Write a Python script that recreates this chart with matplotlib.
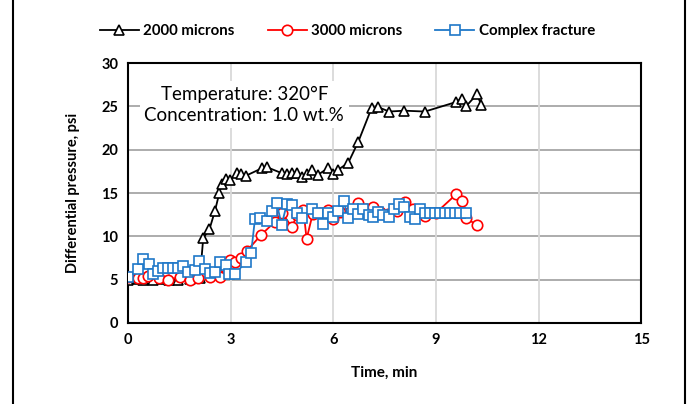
import matplotlib.pyplot as plt
from matplotlib.patches import Rectangle

# Donnees
t_2000 = [0.0, 0.3, 0.45, 0.74, 1.0, 1.2, 1.47, 1.8, 2.1, 2.2, 2.38, 2.54, 2.67, 2.74,
          2.87, 2.98, 3.18, 3.3, 3.45, 3.91, 4.05, 4.49, 4.64, 4.79, 4.93, 5.08, 5.22,
          5.39, 5.55, 5.84, 5.98, 6.15, 6.44, 6.73, 7.12, 7.32, 7.63, 8.08, 8.68, 9.59,
          9.76, 9.88, 10.2, 10.32]
p_2000 = [5.0, 5.1, 5.0, 5.0, 5.1, 5.0, 5.0, 5.1, 5.15, 9.8, 10.8, 12.9, 15.0, 16.0,
          16.6, 16.5, 17.3, 17.2, 17.0, 17.85, 18.0, 17.3, 17.2, 17.35, 17.3, 16.9, 17.2,
          17.6, 17.1, 17.85, 17.2, 17.7, 18.5, 20.9, 24.8, 24.9, 24.4, 24.5, 24.4, 25.5,
          25.9, 25.0, 26.4, 25.2]

t_3000 = [0.0, 0.3, 0.45, 0.6, 0.9, 1.18, 1.52, 1.81, 2.06, 2.4, 2.69, 2.85, 2.98, 3.13,
          3.3, 3.47, 3.9, 4.3, 4.5, 4.79, 4.95, 5.13, 5.22, 5.4, 5.61, 5.86, 6.0, 6.2,
          6.49, 6.73, 6.95, 7.17, 7.37, 7.6, 7.85, 8.1, 8.34, 8.68, 9.0, 9.59, 9.76,
          9.88, 10.2]
p_3000 = [5.3, 5.2, 5.15, 5.4, 5.2, 5.0, 5.3, 5.0, 5.15, 5.35, 5.35, 6.5, 7.3, 7.0,
          7.5, 8.3, 10.2, 11.7, 12.7, 11.1, 12.5, 13.0, 9.7, 12.6, 12.65, 13.0, 12.0, 12.8,
          12.85, 13.8, 13.2, 13.4, 12.85, 12.6, 12.9, 14.0, 13.1, 12.35, 12.7, 14.85, 14.1,
          12.1, 11.3]

t_cf = [0.0, 0.3, 0.43, 0.62, 0.74, 0.89, 1.03, 1.18, 1.32, 1.47, 1.62, 1.76, 1.96, 2.08,
        2.25, 2.4, 2.54, 2.69, 2.87, 2.96, 3.13, 3.45, 3.6, 3.71, 3.86, 4.05, 4.2, 4.35,
        4.49, 4.64, 4.79, 4.93, 5.1, 5.37, 5.54, 5.69, 5.86, 6.0, 6.15, 6.3, 6.44, 6.59,
        6.73, 6.88, 7.03, 7.17, 7.32, 7.45, 7.64, 7.78, 7.93, 8.07, 8.23, 8.39, 8.54,
        8.68, 8.83, 8.98, 9.12, 9.27, 9.42, 9.56, 9.71, 9.88]
p_cf = [5.27, 6.2, 7.35, 6.8, 5.7, 6.0, 6.4, 6.3, 6.4, 6.4, 6.6, 5.9, 6.1, 7.2,
        6.2, 5.8, 5.9, 7.07, 6.7, 5.65, 5.65, 7.07, 8.1, 11.96, 12.07, 11.8, 12.96, 13.8,
        11.3, 13.7, 13.6, 12.65, 12.07, 13.2, 12.7, 11.4, 12.65, 12.27, 12.96, 14.1, 12.07,
        13.1, 12.6, 13.2, 12.46, 12.27, 12.85, 12.46, 12.2, 13.1, 13.7, 13.4, 12.27, 11.96,
        13.2, 12.7, 12.73, 12.73, 12.73, 12.73, 12.73, 12.73, 12.73, 12.73]

x_ticks = [0, 3, 6, 9, 12, 15]
y_ticks = [0, 5, 10, 15, 20, 25, 30]

police = ['Lato', 'DejaVu Sans']
plt.rcParams['font.family'] = police

fig = plt.figure(figsize=(6.88, 4.04), dpi=100)
ax = fig.add_axes([0.186, 0.2005, 0.746, 0.6435])

bleu = '#1f78c8'
ax.plot(t_2000, p_2000, color='black', lw=1.3, marker='^', ms=7.5, mfc='white',
        mec='black', mew=1.2, label='2000 microns', zorder=3)
ax.plot(t_3000, p_3000, color='red', lw=1.3, marker='o', ms=7.5, mfc='white',
        mec='red', mew=1.2, label='3000 microns', zorder=4)
ax.plot(t_cf, p_cf, color=bleu, lw=1.3, marker='s', ms=7.5, mfc='white',
        mec=bleu, mew=1.2, label='Complex fracture', zorder=5)

ax.set_xlim(0, 15)
ax.set_ylim(0, 30)
ax.set_xticks(x_ticks)
ax.set_yticks(y_ticks)
ax.tick_params(length=0, labelsize=10.5, pad=7)
for lab in ax.get_xticklabels() + ax.get_yticklabels():
    lab.set_fontweight('bold')

for v in y_ticks[1:-1]:
    ax.axhline(v, color='#a6a6a6', lw=1.3, zorder=1)
for v in x_ticks[1:-1]:
    ax.axvline(v, color='#d9d9d9', lw=1.3, zorder=1)
for s in ax.spines.values():
    s.set_color('black')
    s.set_linewidth(1.5)

ax.set_xlabel('Time, min', fontsize=11, fontweight='bold', labelpad=14)
ax.set_ylabel('Differential pressure, psi', fontsize=10.5, fontweight='bold', labelpad=15)

ax.text(3.4, 25.2, 'Temperature: 320\u00b0F\nConcentration: 1.0 wt.%', ha='center',
        va='center', fontsize=13.5, linespacing=1.3, zorder=6,
        bbox=dict(boxstyle='square,pad=0.25', fc='white', ec='none'))

fig.legend(loc='center', bbox_to_anchor=(0.505, 0.923), ncol=3, frameon=False,
           prop={'weight': 'bold', 'size': 10.8}, handlelength=2.6, columnspacing=2.2,
           handletextpad=0.3)

# cadre exterieur
fig.patches.append(Rectangle((13 / 688, -0.01), 672 / 688, 1.02, transform=fig.transFigure,
                             fill=False, ec='black', lw=1.5))

fig.savefig('out.png', dpi=100)
